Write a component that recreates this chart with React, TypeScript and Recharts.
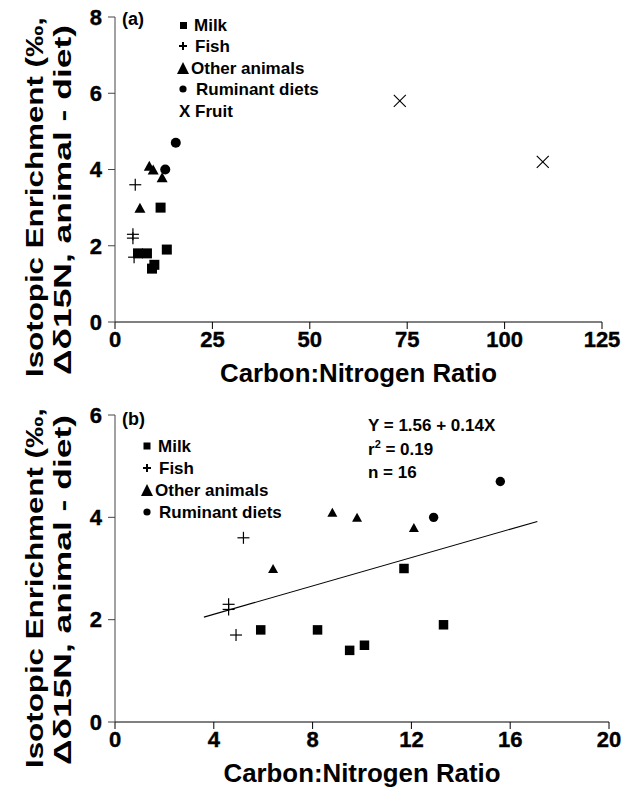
import React from 'react';
import { ScatterChart, Scatter, XAxis, YAxis, ReferenceLine } from 'recharts';

const FONT = '"Liberation Sans", Arial, Helvetica, sans-serif';

// Data (shared between panels)
const milkX = [5.9, 8.2, 9.5, 10.1, 11.7, 13.3];
const milkY = [1.8, 1.8, 1.4, 1.5, 3.0, 1.9];
const fishX = [5.2, 4.6, 4.6, 4.9];
const fishY = [3.6, 2.3, 2.2, 1.7];
const otherX = [6.4, 8.8, 9.8, 12.1];
const otherY = [3.0, 4.1, 4.0, 3.8];
const rumX = [12.9, 15.6];
const rumY = [4.0, 4.7];
const fruitX = [73.1, 109.8];
const fruitY = [5.8, 4.2];
const regX = [3.6, 17.1];
const regY = [2.05, 3.92];

const xTicksA = [0, 25, 50, 75, 100, 125];
const yTicksA = [0, 2, 4, 6, 8];
const xTicksB = [0, 4, 8, 12, 16, 20];
const yTicksB = [0, 2, 4, 6];

const legendA = ['Milk', 'Fish', 'Other animals', 'Ruminant diets', 'Fruit'];
const legendB = ['Milk', 'Fish', 'Other animals', 'Ruminant diets'];
const eqLines = ['Y = 1.56 + 0.14X', 'r', 'n = 16'];
const xTitle = 'Carbon:Nitrogen Ratio';
const yTitle1 = 'Isotopic Enrichment (‰,';
const yTitle2 = 'Δδ15N, animal - diet)';

const zip = (xs: number[], ys: number[]) => xs.map((x, i) => ({ x, y: ys[i] }));
const milk = zip(milkX, milkY);
const fish = zip(fishX, fishY);
const other = zip(otherX, otherY);
const rum = zip(rumX, rumY);
const fruit = zip(fruitX, fruitY);

const mkSquare = (s: number) => (p: any) => (
  <rect x={p.cx - s / 2} y={p.cy - s / 2} width={s} height={s} fill="#000" />
);
const mkPlus = (s: number) => (p: any) => (
  <g stroke="#000" strokeWidth={1.2}>
    <line x1={p.cx - s / 2} y1={p.cy} x2={p.cx + s / 2} y2={p.cy} />
    <line x1={p.cx} y1={p.cy - s / 2} x2={p.cx} y2={p.cy + s / 2} />
  </g>
);
const mkTri = (w: number, h: number) => (p: any) => (
  <polygon
    points={`${p.cx - w / 2},${p.cy + h / 2} ${p.cx + w / 2},${p.cy + h / 2} ${p.cx},${p.cy - h / 2}`}
    fill="#000"
  />
);
const mkCircle = (r: number) => (p: any) => <circle cx={p.cx} cy={p.cy} r={r} fill="#000" />;
const mkX = (s: number) => (p: any) => (
  <g stroke="#000" strokeWidth={1.1}>
    <line x1={p.cx - s / 2} y1={p.cy - s / 2} x2={p.cx + s / 2} y2={p.cy + s / 2} />
    <line x1={p.cx - s / 2} y1={p.cy + s / 2} x2={p.cx + s / 2} y2={p.cy - s / 2} />
  </g>
);

const renderXTick = (p: any) => (
  <text x={p.x} y={p.y + 16} textAnchor="middle" fontSize={22} fontWeight={700} fontFamily={FONT} fill="#000" stroke="#000" strokeWidth={0.4}>
    {String(p.payload.value)}
  </text>
);
const renderYTick = (p: any) => (
  <text x={p.x} y={p.y + 7.8} textAnchor="end" fontSize={22} fontWeight={700} fontFamily={FONT} fill="#000" stroke="#000" strokeWidth={0.4}>
    {String(p.payload.value)}
  </text>
);

const txt = (x: number, y: number, s: string, size = 17, anchor: any = 'start') => (
  <text x={x} y={y + size * 0.35} fontSize={size} fontWeight={700} fontFamily={FONT} fill="#000" textAnchor={anchor}>
    {s}
  </text>
);

export default function App() {
  return (
    <div style={{ position: 'absolute', left: 0, top: 0, width: 633, height: 791, background: '#fff' }}>
      <ScatterChart
        width={633}
        height={400}
        margin={{ top: 17, right: 31, left: 55, bottom: 48 }}
        style={{ position: 'absolute', left: 0, top: 0 }}
      >
        <XAxis
          type="number"
          dataKey="x"
          domain={[0, 125]}
          ticks={xTicksA}
          interval={0}
          tickSize={7}
          tickMargin={2}
          height={30}
          tick={renderXTick}
          stroke="#000"
        />
        <YAxis
          type="number"
          dataKey="y"
          domain={[0, 8]}
          ticks={yTicksA}
          interval={0}
          tickSize={7}
          tickMargin={6}
          width={60}
          tick={renderYTick}
          stroke="#444"
        />
        <Scatter data={milk} shape={mkSquare(10)} isAnimationActive={false} />
        <Scatter data={fish} shape={mkPlus(12)} isAnimationActive={false} />
        <Scatter data={other} shape={mkTri(11, 10)} isAnimationActive={false} />
        <Scatter data={rum} shape={mkCircle(5)} isAnimationActive={false} />
        <Scatter data={fruit} shape={mkX(12)} isAnimationActive={false} />
      </ScatterChart>
      <ScatterChart
        width={633}
        height={391}
        margin={{ top: 15, right: 24, left: 55, bottom: 39 }}
        style={{ position: 'absolute', left: 0, top: 400 }}
      >
        <XAxis
          type="number"
          dataKey="x"
          domain={[0, 20]}
          ticks={xTicksB}
          interval={0}
          tickSize={7}
          tickMargin={2}
          height={30}
          tick={renderXTick}
          stroke="#000"
        />
        <YAxis
          type="number"
          dataKey="y"
          domain={[0, 6]}
          ticks={yTicksB}
          interval={0}
          tickSize={7}
          tickMargin={6}
          width={60}
          tick={renderYTick}
          stroke="#444"
        />
        <ReferenceLine
          segment={[{ x: regX[0], y: regY[0] }, { x: regX[1], y: regY[1] }]}
          stroke="#000"
          strokeWidth={1.1}
          ifOverflow="visible"
        />
        <Scatter data={milk} shape={mkSquare(9.5)} isAnimationActive={false} />
        <Scatter data={fish} shape={mkPlus(12)} isAnimationActive={false} />
        <Scatter data={other} shape={mkTri(10, 9)} isAnimationActive={false} />
        <Scatter data={rum} shape={mkCircle(4.7)} isAnimationActive={false} />
      </ScatterChart>
      <svg
        width={633}
        height={791}
        style={{ position: 'absolute', left: 0, top: 0, pointerEvents: 'none' }}
      >
        {txt(122, 19, '(a)', 18)}
        <rect x={180} y={22} width={7} height={7} fill="#000" />
        {txt(194, 25, legendA[0])}
        <g stroke="#000" strokeWidth={2}>
          <line x1={179} y1={46} x2={187} y2={46} />
          <line x1={183} y1={42} x2={183} y2={50} />
        </g>
        {txt(195, 46, legendA[1])}
        <polygon points="177,74 189,74 183,62" fill="#000" />
        {txt(191, 68, legendA[2])}
        <circle cx={183} cy={89} r={3.6} fill="#000" />
        {txt(196, 89, legendA[3])}
        {txt(179, 111, 'X ' + legendA[4])}
        {txt(122, 419, '(b)', 18)}
        <rect x={143.5} y={442.5} width={7} height={7} fill="#000" />
        {txt(158, 446, legendB[0])}
        <g stroke="#000" strokeWidth={2}>
          <line x1={143} y1={468} x2={151} y2={468} />
          <line x1={147} y1={464} x2={147} y2={472} />
        </g>
        {txt(159, 468, legendB[1])}
        <polygon points="141,496 153,496 147,484" fill="#000" />
        {txt(155, 490, legendB[2])}
        <circle cx={147} cy={512} r={3.6} fill="#000" />
        {txt(159, 512, legendB[3])}
        {txt(368, 425, eqLines[0])}
        <text x={368} y={449 + 6} fontSize={17} fontWeight={700} fontFamily={FONT} fill="#000">
          {eqLines[1]}
          <tspan fontSize={11} dy={-7}>2</tspan>
          <tspan dy={7}> = 0.19</tspan>
        </text>
        {txt(368, 472, eqLines[2])}
        <text x={358.5} y={382} fontSize={25} fontWeight={700} fontFamily={FONT} fill="#000" textAnchor="middle" textLength={277} lengthAdjust="spacingAndGlyphs">
          {xTitle}
        </text>
        <text x={362} y={782} fontSize={25} fontWeight={700} fontFamily={FONT} fill="#000" textAnchor="middle" textLength={277} lengthAdjust="spacingAndGlyphs">
          {xTitle}
        </text>
        {[
          { cy1: 197, cy2: 200 },
          { cy1: 588, cy2: 590 },
        ].map((p, i) => (
          <g key={i}>
            <text
              transform={`translate(43,${p.cy1}) rotate(-90)`}
              fontSize={24}
              fontWeight={700}
              fontFamily={FONT}
              fill="#000"
              textAnchor="middle"
              textLength={360}
              lengthAdjust="spacingAndGlyphs"
            >
              {yTitle1}
            </text>
            <text
              transform={`translate(71,${p.cy2}) rotate(-90)`}
              fontSize={24}
              fontWeight={700}
              fontFamily={FONT}
              fill="#000"
              textAnchor="middle"
              textLength={350}
              lengthAdjust="spacingAndGlyphs"
            >
              {yTitle2}
            </text>
          </g>
        ))}
      </svg>
    </div>
  );
}
